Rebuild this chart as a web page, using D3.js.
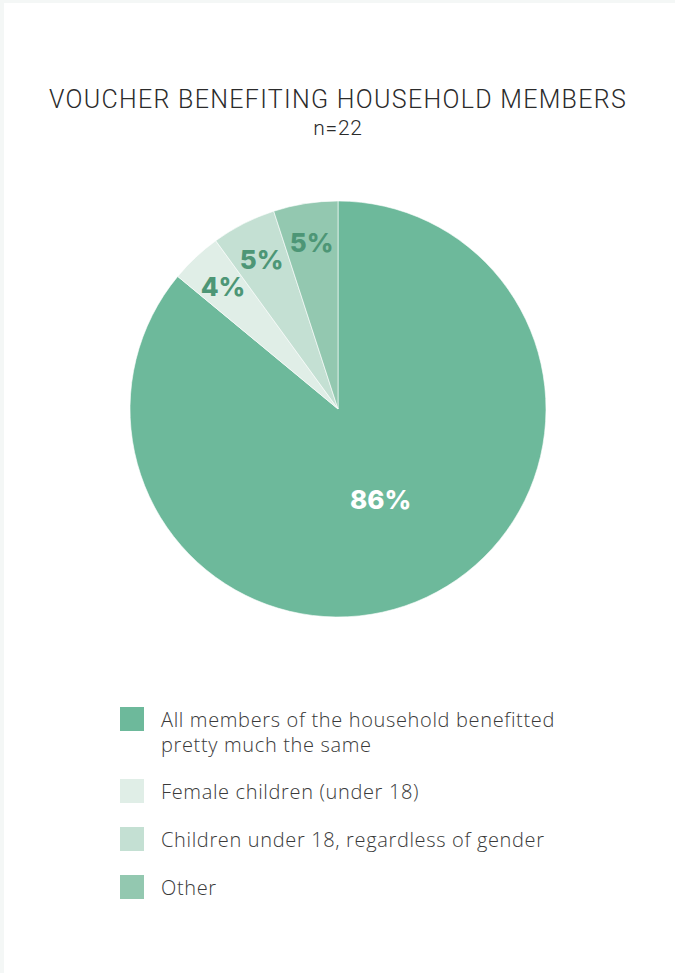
<!DOCTYPE html>
<html>
<head>
<meta charset="utf-8">
<script src="https://cdn.jsdelivr.net/npm/d3@7"></script>
<style>
  html, body { margin: 0; padding: 0; background: #f4f7f6; }
  svg { display: block; }
</style>
</head>
<body>
<svg id="chart" width="675" height="973"></svg>
<script>
// Survey responses: who benefited from the voucher
const categories = [
  "All members of the household benefitted pretty much the same",
  "Female children (under 18)",
  "Children under 18, regardless of gender",
  "Other"
];
const shares = [86, 4, 5, 5];
const legendLines = [
  ["All members of the household benefitted", "pretty much the same"],
  ["Female children (under 18)"],
  ["Children under 18, regardless of gender"],
  ["Other"]
];
const title = "VOUCHER BENEFITING HOUSEHOLD MEMBERS";
const subtitle = "n=22";

const colors = ["#6db99b", "#e0eee7", "#c4e0d3", "#93c8b0"];
const labelColors = ["#ffffff", "#4d9676", "#4d9676", "#4d9676"];

const svg = d3.select("#chart");
const W = 675, H = 973;

// white card on a pale backdrop
svg.append("rect").attr("x", 4).attr("y", 3).attr("width", W - 4).attr("height", H - 3).attr("fill", "#ffffff");

// heading
svg.append("text")
  .attr("x", 338).attr("y", 108)
  .attr("text-anchor", "middle")
  .attr("font-family", "Roboto")
  .attr("font-weight", 300)
  .attr("font-size", 25)
  .attr("letter-spacing", 1.3)
  .attr("fill", "#2b2b2b")
  .text(title);
svg.append("text")
  .attr("x", 338).attr("y", 135)
  .attr("text-anchor", "middle")
  .attr("font-family", "Roboto")
  .attr("font-weight", 300)
  .attr("font-size", 21)
  .attr("letter-spacing", 0.8)
  .attr("fill", "#2b2b2b")
  .text(subtitle);

// pie
const cx = 338, cy = 409, R = 208;
const pie = d3.pie().sort(null).value(d => d)(shares);
const arc = d3.arc().innerRadius(0).outerRadius(R);
const g = svg.append("g").attr("transform", `translate(${cx},${cy})`);

g.selectAll("path.slice")
  .data(pie)
  .join("path")
  .attr("class", "slice")
  .attr("d", arc)
  .attr("fill", (d, i) => colors[i])
  .attr("stroke", "#ffffff")
  .attr("stroke-width", 0.6);

const labelArcBig = d3.arc().innerRadius(100).outerRadius(100);
const labelArcSmall = d3.arc().innerRadius(168).outerRadius(168);

g.selectAll("text.pct")
  .data(pie)
  .join("text")
  .attr("class", "pct")
  .attr("transform", (d, i) => {
    const c = (i === 0 ? labelArcBig : labelArcSmall).centroid(d);
    return `translate(${c[0]},${c[1]})`;
  })
  .attr("text-anchor", "middle")
  .attr("dy", "0.36em")
  .attr("font-family", "Inter")
  .attr("font-weight", 800)
  .attr("font-size", 26)
  .attr("fill", (d, i) => labelColors[i])
  .text(d => d.data + "%");

// legend
const legendTop = [707, 779, 827, 875];
const lg = svg.append("g");
categories.forEach((c, i) => {
  const row = lg.append("g").attr("transform", `translate(120,${legendTop[i]})`);
  row.append("rect").attr("width", 24).attr("height", 24).attr("fill", colors[i]);
  const t = row.append("text")
    .attr("x", 41).attr("y", 20)
    .attr("font-family", "Open Sans")
    .attr("font-weight", 300)
    .attr("font-size", 20)
    .attr("letter-spacing", 0.65)
    .attr("fill", "#3a3a3a");
  legendLines[i].forEach((line, j) => {
    t.append("tspan").attr("x", 41).attr("dy", j === 0 ? 0 : 25).text(line);
  });
});
</script>
</body>
</html>
